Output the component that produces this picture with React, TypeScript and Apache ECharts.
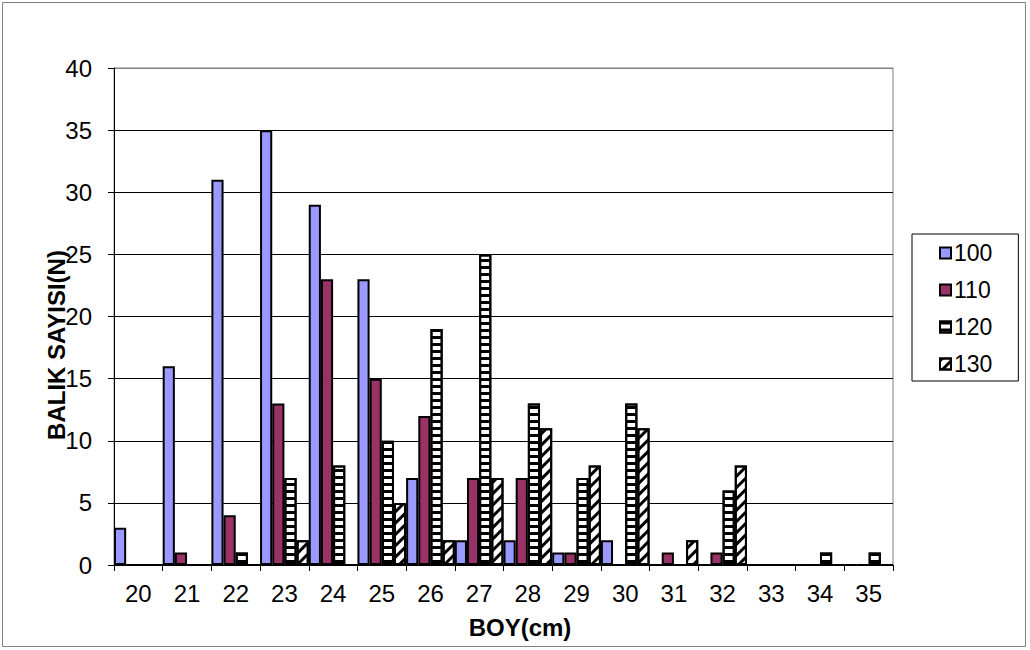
import React, { useEffect, useRef } from "react";
import * as echarts from "echarts";

// Fish length classes (cm)
const lengthClasses = ["20", "21", "22", "23", "24", "25", "26", "27", "28", "29", "30", "31", "32", "33", "34", "35"];

// Fish counts per length class, one array per group
const group100 = [3, 16, 31, 35, 29, 23, 7, 2, 2, 1, 2, 0, 0, 0, 0, 0];
const group110 = [0, 1, 4, 13, 23, 15, 12, 7, 7, 1, 0, 1, 1, 0, 0, 0];
const group120 = [0, 0, 1, 7, 8, 10, 19, 25, 13, 7, 13, 0, 6, 0, 1, 1];
const group130 = [0, 0, 0, 2, 0, 5, 2, 7, 11, 8, 11, 2, 8, 0, 0, 0];

const seriesNames = ["100", "110", "120", "130"];

const FONT = "'Liberation Sans', Arial, Helvetica, sans-serif";

export default function App() {
  const ref = useRef<HTMLDivElement>(null);

  useEffect(() => {
    if (!ref.current) return;
    const chart = echarts.init(ref.current, undefined, { renderer: "svg" });

    const border = { borderColor: "#000", borderWidth: 2 };

    const option: any = {
      animation: false,
      backgroundColor: "#fff",
      textStyle: { fontFamily: FONT },
      grid: {
        left: 114,
        right: 137,
        top: 68,
        bottom: 85,
        show: true,
        borderColor: "#808080",
        borderWidth: 1,
        backgroundColor: "transparent",
      },
      legend: {
        orient: "vertical",
        left: 912,
        top: 234,
        padding: [7, 26, 5, 27],
        itemGap: 13,
        itemWidth: 11,
        itemHeight: 11,
        icon: "rect",
        borderColor: "#000",
        borderWidth: 1,
        backgroundColor: "#fff",
        data: seriesNames,
        textStyle: {
          fontFamily: FONT,
          fontSize: 23,
          color: "#000",
          lineHeight: 24,
          padding: [0, 0, 0, -2],
        },
      },
      xAxis: {
        type: "category",
        data: lengthClasses,
        axisLine: { show: true, lineStyle: { color: "#000", width: 1 } },
        axisTick: { show: true, length: 6, lineStyle: { color: "#000" } },
        axisLabel: { fontFamily: FONT, fontSize: 24, color: "#000", margin: 16 },
        splitLine: { show: false },
      },
      yAxis: {
        type: "value",
        min: 0,
        max: 40,
        interval: 5,
        axisLine: { show: true, lineStyle: { color: "#000", width: 1 } },
        axisTick: { show: true, length: 6, lineStyle: { color: "#000" } },
        axisLabel: { fontFamily: FONT, fontSize: 24, color: "#000", margin: 22 },
        splitLine: {
          show: true,
          lineStyle: {
            color: ["#000", "#000", "#000", "#000", "#000", "#000", "#000", "#000", "#808080"],
            width: 1,
          },
        },
      },
      series: [
        {
          name: seriesNames[0],
          type: "bar",
          data: group100,
          barGap: "0%",
          barCategoryGap: "0%",
          itemStyle: { color: "#9999FF", ...border },
        },
        {
          name: seriesNames[1],
          type: "bar",
          data: group110,
          barGap: "0%",
          barCategoryGap: "0%",
          itemStyle: { color: "#993366", ...border },
        },
        {
          name: seriesNames[2],
          type: "bar",
          data: group120,
          barGap: "0%",
          barCategoryGap: "0%",
          itemStyle: {
            color: "#fff",
            ...border,
            decal: {
              symbol: "rect",
              symbolSize: 1,
              color: "#000",
              backgroundColor: "#fff",
              dashArrayX: [1, 0],
              dashArrayY: [3, 4],
              rotation: 0,
            },
          },
        },
        {
          name: seriesNames[3],
          type: "bar",
          data: group130,
          barGap: "0%",
          barCategoryGap: "0%",
          itemStyle: {
            color: "#fff",
            ...border,
            decal: {
              symbol: "rect",
              symbolSize: 1,
              color: "#000",
              backgroundColor: "#fff",
              dashArrayX: [1, 0],
              dashArrayY: [3, 5],
              rotation: -Math.PI / 4,
            },
          },
        },
      ],
      graphic: [
        {
          type: "rect",
          silent: true,
          shape: { x: 2.5, y: 2.5, width: 1023, height: 644 },
          style: { fill: "none", stroke: "#808080", lineWidth: 1 },
        },
        {
          type: "text",
          x: 520,
          y: 627,
          style: {
            text: "BOY(cm)",
            fontFamily: FONT,
            fontSize: 24,
            fontWeight: "bold",
            fill: "#000",
            align: "center",
            verticalAlign: "middle",
          },
        },
        {
          type: "text",
          x: 56,
          y: 345,
          rotation: Math.PI / 2,
          style: {
            text: "BALIK SAYISI(N)",
            fontFamily: FONT,
            fontSize: 24,
            fontWeight: "bold",
            fill: "#000",
            align: "center",
            verticalAlign: "middle",
          },
        },
      ],
    };

    chart.setOption(option);
    return () => chart.dispose();
  }, []);

  return (
    <div
      ref={ref}
      style={{ position: "fixed", left: 0, top: 0, width: 1030, height: 650 }}
    />
  );
}
